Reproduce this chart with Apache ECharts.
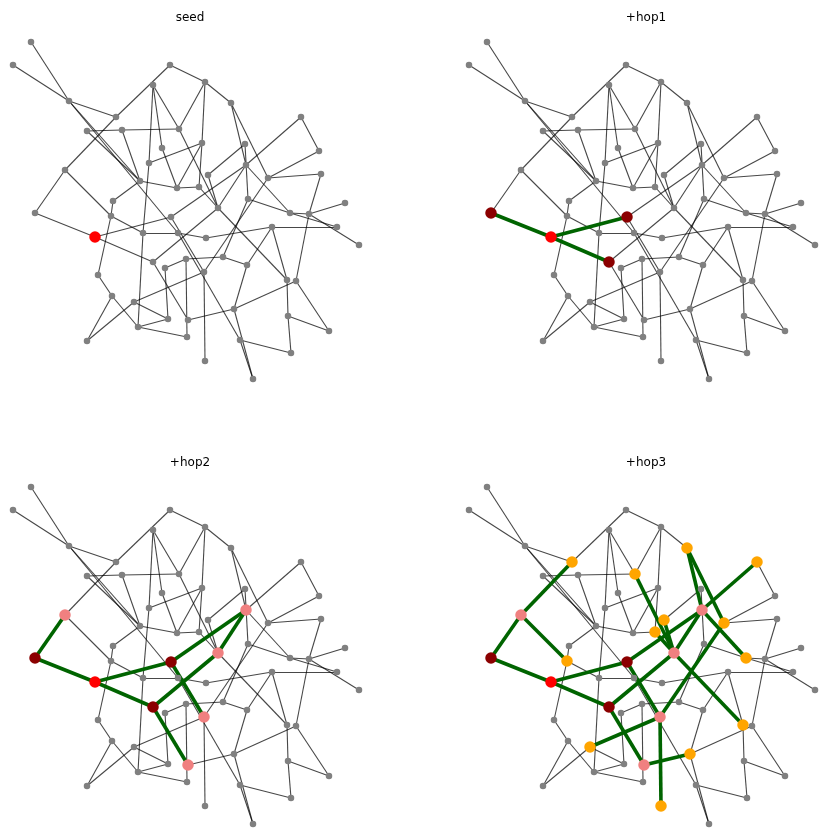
<!DOCTYPE html>
<html><head><meta charset="utf-8">
<script src="https://cdn.jsdelivr.net/npm/echarts/dist/echarts.min.js"></script>
<style>html,body{margin:0;padding:0;background:#fff}#c{width:829px;height:832px}</style>
</head><body><div id="c"></div>
<script>
// node layout positions (layout data space)
const nodeIds = ['A','B','C','D','E','F','G','H','I','J','K','L','M','N','O','P','Q','AI','R','S','T','U','V','W','X','Y','Z','AA','AB','AC','AD','AE','AF','AG','SEED','AH','AM','AJ','AK','AL','AN','AO','AP','AQ','AR','AS','AT','AU','AV','AW','AX','AY','AZ','BA','BB','BC','BD','BE','BF','BG','BH','BI','BJ','BK'];
const nodeX = [31,13,69,170,153,116,87,122,179,162,149,65,140,177,113,35,111,171,205,231,301,202,245,319,246,208,321,268,199,248,218,345,290,309,95,143,178,153,165,186,98,112,134,168,138,187,87,188,337,359,272,206,223,247,204,287,296,234,288,329,240,291,205,253];
const nodeY = [42,65,101,65,85,117,131,130,129,148,163,170,181,188,201,213,216,217,82,103,117,143,144,151,165,175,174,178,187,199,208,203,213,214,237,233,233,262,268,259,275,296,302,319,327,337,341,320,227,245,227,238,257,265,272,280,281,309,316,331,340,353,361,379];
const edges = [
 ['SEED','P'],['SEED','AI'],['SEED','AJ'],
 ['P','L'],['AI','X'],['AI','BB'],['AJ','AU'],['AJ','AD'],['AD','X'],
 ['L','F'],['L','Q'],['I','AD'],['S','X'],['S','AA'],['T','X'],['X','AF'],['AD','BC'],['BB','AP'],['AU','BE'],['BB','BJ'],['AA','BB'],['AD','Y'],['AD','AB'],
 ['A','C'],['B','C'],['C','F'],['C','M'],['C','AM'],['D','R'],['D','F'],['E','I'],['E','K'],['E','J'],['G','H'],['H','I'],['H','M'],['G','M'],
 ['R','S'],['R','I'],['R','U'],['T','W'],['W','AA'],['Z','AA'],['Z','AG'],['AF','AG'],['AC','AF'],['AF','AV'],['AE','AG'],['AG','AW'],['AG','BD'],
 ['AX','AV'],['AX','BC'],['AX','BA'],['AX','AY'],['BC','BF'],['BD','BG'],['BD','BE'],['BF','BG'],['BF','BI'],['BH','BI'],['BH','BK'],['BE','BK'],
 ['AM','BH'],['AL','AZ'],['AZ','BA'],['AZ','AC'],['AM','AY'],['AH','AM'],['AH','Q'],['K','AH'],['AH','AR'],['Q','O'],['Q','AN'],['O','M'],
 ['AN','AO'],['AO','AT'],['AO','AR'],['AR','AQ'],['AR','AS'],['AP','AQ'],['AQ','AK'],['AK','AL'],['AT','AP'],['K','U'],['U','AB'],['V','AC'],
 ['V','Y'],['J','N'],['M','N'],['N','AB'],['N','U'],['BA','BE'],['AL','AS']
];
const seedNode = 'SEED';
const panelTitles = ['seed','+hop1','+hop2','+hop3'];
const panelHops = [0,1,2,3];
const hopColors = ['#ff0000','#8b0000','#f08080','#ffa500'];

const idx = {}; nodeIds.forEach((n,i)=>idx[n]=i);
const adj = nodeIds.map(()=>[]);
edges.forEach(([a,b])=>{adj[idx[a]].push(idx[b]);adj[idx[b]].push(idx[a]);});
const dist = nodeIds.map(()=>Infinity);
dist[idx[seedNode]] = 0;
let q=[idx[seedNode]];
while(q.length){const u=q.shift();adj[u].forEach(v=>{if(dist[v]===Infinity){dist[v]=dist[u]+1;q.push(v);}});}

const grids=[],xAxes=[],yAxes=[],series=[],titles=[];
panelHops.forEach((k,p)=>{
  const col=p%2,row=Math.floor(p/2);
  const left=col*456, top=row*445;
  grids.push({left:left,top:top,width:370,height:385});
  xAxes.push({type:'value',gridIndex:p,min:0,max:370,show:false});
  yAxes.push({type:'value',gridIndex:p,min:0,max:385,inverse:true,show:false});
  titles.push({text:panelTitles[p],left:left+185,top:top+7,textAlign:'center',
    textStyle:{fontSize:12,fontWeight:'normal',color:'#000',fontFamily:'DejaVu Sans'}});
  const data=nodeIds.map((n,i)=>{
    const on=dist[i]<=k;
    return {name:n,value:[nodeX[i],nodeY[i]],symbolSize:on?11.5:6.5,
      itemStyle:{color:on?hopColors[dist[i]]:'#808080'}};
  });
  const gray=[],green=[];
  edges.forEach(([a,b])=>{
    const ia=idx[a],ib=idx[b];
    if(dist[ia]<=k&&dist[ib]<=k&&k>0) green.push({source:ia,target:ib,lineStyle:{color:'#006400',width:3.6,opacity:1}});
    else gray.push({source:ia,target:ib,lineStyle:{color:'#000',width:1.1,opacity:0.72}});
  });
  series.push({type:'graph',coordinateSystem:'cartesian2d',xAxisIndex:p,yAxisIndex:p,
    symbol:'circle',data:data,links:gray.concat(green),label:{show:false},
    emphasis:{disabled:true},silent:true,animation:false});
});
const chart=echarts.init(document.getElementById('c'),null,{renderer:'canvas'});
chart.setOption({animation:false,backgroundColor:'#fff',title:titles,grid:grids,xAxis:xAxes,yAxis:yAxes,series:series});
</script></body></html>
